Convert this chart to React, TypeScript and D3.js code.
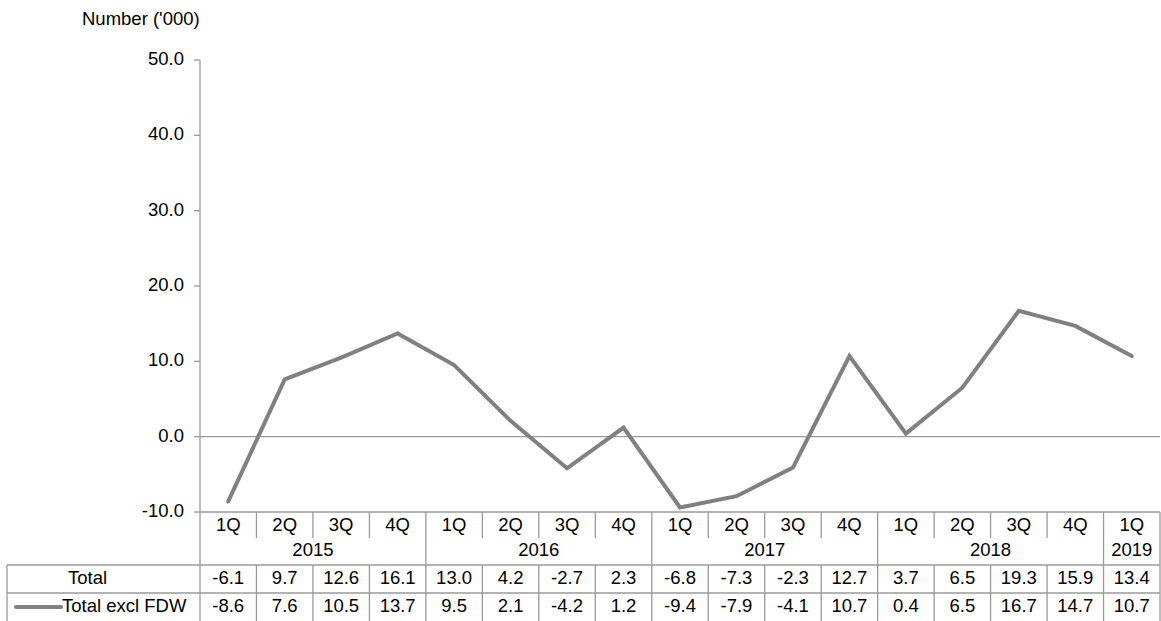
import React from "react";
import * as d3 from "d3";

const quarters = ["1Q","2Q","3Q","4Q","1Q","2Q","3Q","4Q","1Q","2Q","3Q","4Q","1Q","2Q","3Q","4Q","1Q"];
const years = [
  { label: "2015", start: 0, end: 4 },
  { label: "2016", start: 4, end: 8 },
  { label: "2017", start: 8, end: 12 },
  { label: "2018", start: 12, end: 16 },
  { label: "2019", start: 16, end: 17 },
];
const totalValues = [-6.1, 9.7, 12.6, 16.1, 13.0, 4.2, -2.7, 2.3, -6.8, -7.3, -2.3, 12.7, 3.7, 6.5, 19.3, 15.9, 13.4];
const exclFdwValues = [-8.6, 7.6, 10.5, 13.7, 9.5, 2.1, -4.2, 1.2, -9.4, -7.9, -4.1, 10.7, 0.4, 6.5, 16.7, 14.7, 10.7];
const yTicks = [-10, 0, 10, 20, 30, 40, 50];

const W = 1161;
const H = 621;
const left = 200;
const right = 1160;
const top = 60;
const axisY = 512;
const rowQ = [512, 538];
const rowYr = [538, 565];
const rowT = [565, 593];
const rowE = [593, 621];
const tableLeft = 7;

const FONT = "'Liberation Sans', Arial, sans-serif";
const FS = 18.5;
const GRID = "#9a9a9a";
const LINE = "#808080";

export default function App() {
  const idx = quarters.map((_, i) => i);
  const x = d3.scaleBand<number>().domain(idx).range([left, right]).padding(0);
  const y = d3.scaleLinear().domain([-10, 50]).range([axisY, top]);
  const cx = (i: number) => (x(i) as number) + x.bandwidth() / 2;
  const bx = (i: number) => (i >= quarters.length ? right : (x(i) as number));
  const lineGen = d3
    .line<number>()
    .x((_, i) => cx(i))
    .y((d) => y(d));
  const f1 = d3.format(".1f");
  const fmt = (v: number) => f1(v).replace("\u2212", "-");
  const yearBounds = new Set<number>();
  years.forEach((yr) => { yearBounds.add(yr.start); yearBounds.add(yr.end); });

  return (
    <svg
      width={W}
      height={H}
      style={{ position: "absolute", left: 0, top: 0, display: "block", background: "#fff" }}
      fontFamily={FONT}
      fontSize={FS}
    >
      <text x={82} y={20} dominantBaseline="middle" fill="#000">Number ('000)</text>

      {/* y axis */}
      <line x1={left} x2={left} y1={top} y2={axisY} stroke={GRID} strokeWidth={1.3} />
      {yTicks.map((t) => (
        <g key={t}>
          <line x1={194} x2={left} y1={y(t)} y2={y(t)} stroke={GRID} strokeWidth={1.3} />
          <text x={184} y={y(t)} textAnchor="end" dominantBaseline="middle" fill="#000">{fmt(t)}</text>
        </g>
      ))}
      {/* zero line */}
      <line x1={left} x2={right} y1={y(0)} y2={y(0)} stroke={GRID} strokeWidth={1.3} />
      {/* x axis at -10 */}
      <line x1={left} x2={right} y1={axisY} y2={axisY} stroke={GRID} strokeWidth={1.3} />

      {/* table vertical lines */}
      {d3.range(0, quarters.length + 1).map((i) => {
        const xx = bx(i);
        const isYear = yearBounds.has(i);
        return (
          <g key={"v" + i}>
            <line x1={xx} x2={xx} y1={rowQ[0]} y2={isYear ? rowYr[1] : rowQ[1]} stroke={GRID} strokeWidth={1.3} />
            <line x1={xx} x2={xx} y1={rowT[0]} y2={rowE[1]} stroke={GRID} strokeWidth={1.3} />
          </g>
        );
      })}
      <line x1={tableLeft} x2={tableLeft} y1={rowT[0]} y2={rowE[1]} stroke={GRID} strokeWidth={1.3} />
      {[rowT[0], rowE[0]].map((yy, k) => (
        <line key={"h" + k} x1={tableLeft} x2={right} y1={yy} y2={yy} stroke={GRID} strokeWidth={1.3} />
      ))}

      {/* quarter labels */}
      {quarters.map((q, i) => (
        <text key={"q" + i} x={cx(i)} y={(rowQ[0] + rowQ[1]) / 2 + 1} textAnchor="middle" dominantBaseline="middle" fill="#000">{q}</text>
      ))}
      {years.map((yr) => (
        <text
          key={yr.label}
          x={(bx(yr.start) + bx(yr.end)) / 2}
          y={(rowYr[0] + rowYr[1]) / 2}
          textAnchor="middle"
          dominantBaseline="middle"
          fill="#000"
        >
          {yr.label}
        </text>
      ))}

      {/* row headers */}
      <text x={68} y={(rowT[0] + rowT[1]) / 2} dominantBaseline="middle" fill="#000">Total</text>
      <line x1={16} x2={61} y1={(rowE[0] + rowE[1]) / 2} y2={(rowE[0] + rowE[1]) / 2} stroke={LINE} strokeWidth={4} strokeLinecap="round" />
      <text x={62} y={(rowE[0] + rowE[1]) / 2} dominantBaseline="middle" fill="#000">Total excl FDW</text>

      {totalValues.map((v, i) => (
        <text key={"t" + i} x={cx(i)} y={(rowT[0] + rowT[1]) / 2} textAnchor="middle" dominantBaseline="middle" fill="#000">{fmt(v)}</text>
      ))}
      {exclFdwValues.map((v, i) => (
        <text key={"e" + i} x={cx(i)} y={(rowE[0] + rowE[1]) / 2} textAnchor="middle" dominantBaseline="middle" fill="#000">{fmt(v)}</text>
      ))}

      {/* data line */}
      <path d={lineGen(exclFdwValues) || ""} fill="none" stroke={LINE} strokeWidth={4} strokeLinecap="round" strokeLinejoin="miter" />
    </svg>
  );
}
